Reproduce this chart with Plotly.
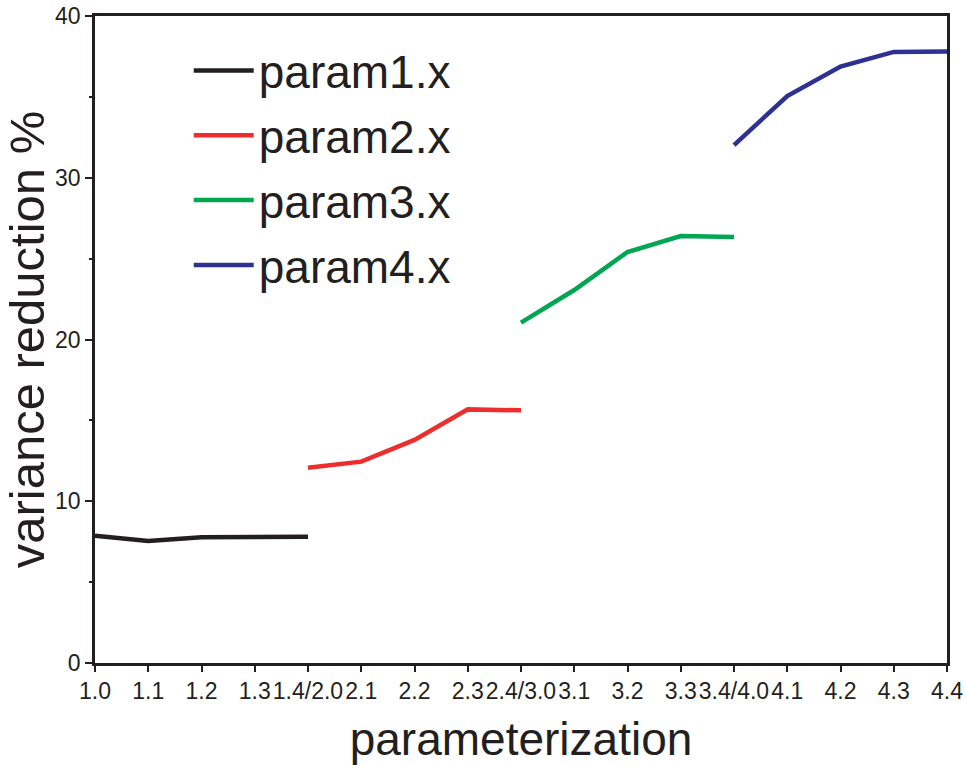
import plotly.graph_objects as go

categories = ["1.0", "1.1", "1.2", "1.3", "1.4/2.0", "2.1", "2.2", "2.3", "2.4/3.0",
              "3.1", "3.2", "3.3", "3.4/4.0", "4.1", "4.2", "4.3", "4.4"]

param1_x = categories[0:5]
param1_y = [7.87, 7.54, 7.77, 7.82, 7.81]

param2_x = categories[4:9]
param2_y = [12.07, 12.45, 13.79, 15.68, 15.62]

param3_x = categories[8:13]
param3_y = [21.04, 23.06, 25.41, 26.40, 26.34]

param4_x = categories[12:17]
param4_y = [32.02, 35.05, 36.87, 37.78, 37.80]

series_names = ["param1.x", "param2.x", "param3.x", "param4.x"]
series_colors = ["#231f20", "#ee2d2e", "#00a651", "#2e3192"]

FONT = "Liberation Sans, Arial, sans-serif"

fig = go.Figure()
for i, (xs, ys) in enumerate([(param1_x, param1_y), (param2_x, param2_y),
                              (param3_x, param3_y), (param4_x, param4_y)]):
    fig.add_trace(go.Scatter(
        x=xs, y=ys, mode="lines", name=series_names[i],
        legendgroup=series_names[i],
        line=dict(color=series_colors[i], width=4.5),
    ))

fig.update_layout(
    width=966, height=765,
    margin=dict(l=95, r=19, t=16, b=102, autoexpand=False),
    paper_bgcolor="white", plot_bgcolor="white",
    font=dict(family=FONT, color="#231f20"),
    showlegend=True,
    legend=dict(
        x=0.11, xanchor="left", y=0.972, yanchor="top",
        bgcolor="rgba(0,0,0,0)", borderwidth=0,
        font=dict(size=46, family=FONT, color="#231f20"),
        tracegroupgap=2, itemwidth=60,
    ),
)

fig.update_xaxes(
    type="category", categoryorder="array", categoryarray=categories,
    range=[0, 16],
    showline=True, linecolor="#231f20", linewidth=2.5, mirror=True,
    ticks="outside", ticklen=6, tickwidth=1.5, tickcolor="#231f20",
    tickfont=dict(size=23, family=FONT, color="#231f20"),
    showgrid=False, zeroline=False,
    title=dict(text="parameterization", font=dict(size=46, family=FONT, color="#231f20"),
               standoff=30),
    automargin=False,
)

fig.update_yaxes(
    range=[0, 40], dtick=10, tick0=0,
    showline=True, linecolor="#231f20", linewidth=2.5, mirror=True,
    ticks="outside", ticklen=7, tickwidth=1.5, tickcolor="#231f20",
    minor=dict(dtick=5, ticks="outside", ticklen=3, tickwidth=1.5, tickcolor="#231f20"),
    tickfont=dict(size=23, family=FONT, color="#231f20"),
    showgrid=False, zeroline=False,
    title=dict(text="variance reduction %", font=dict(size=49, family=FONT, color="#231f20"),
               standoff=8),
    automargin=False,
)

fig.write_html("out.html")
